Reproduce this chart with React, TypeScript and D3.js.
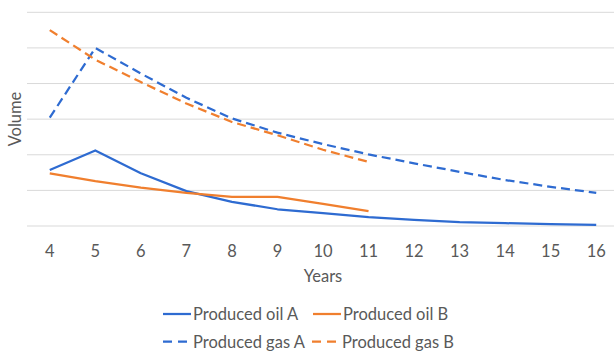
import React from "react";
import * as d3 from "d3";

// Production profiles by year
const years: number[] = [4, 5, 6, 7, 8, 9, 10, 11, 12, 13, 14, 15, 16];
const oilA: number[] = [1.57, 2.12, 1.48, 0.98, 0.68, 0.47, 0.36, 0.25, 0.17, 0.11, 0.08, 0.05, 0.03];
const oilB: number[] = [1.48, 1.26, 1.08, 0.93, 0.82, 0.82, 0.62, 0.42];
const gasA: number[] = [3.04, 5.0, 4.28, 3.6, 3.02, 2.62, 2.3, 2.01, 1.76, 1.52, 1.29, 1.1, 0.93];
const gasB: number[] = [5.5, 4.67, 4.04, 3.44, 2.92, 2.55, 2.14, 1.8];
const gridValues: number[] = [0, 1, 2, 3, 4, 5, 6];

const BLUE = "#2e6bd1";
const ORANGE = "#f07f2e";
const TEXT = "#595959";
const FONT = "Lato, 'Open Sans', sans-serif";
const FS = 16.5;

const W = 614;
const H = 354;

type Series = { name: string; values: number[]; color: string; dashed: boolean };
const series: Series[] = [
  { name: "Produced oil A", values: oilA, color: BLUE, dashed: false },
  { name: "Produced oil B", values: oilB, color: ORANGE, dashed: false },
  { name: "Produced gas A", values: gasA, color: BLUE, dashed: true },
  { name: "Produced gas B", values: gasB, color: ORANGE, dashed: true },
];

export default function App() {
  const x = d3
    .scaleBand<number>()
    .domain(years)
    .range([27, 619])
    .paddingInner(0)
    .paddingOuter(0);
  const y = d3.scaleLinear().domain([0, 6]).range([226, 12.3]);
  const cx = (yr: number) => (x(yr) as number) + x.bandwidth() / 2;

  const line = d3
    .line<number>()
    .x((_, i) => cx(years[i]))
    .y((v) => y(v));

  const legendRows = [
    [series[0], series[1]],
    [series[2], series[3]],
  ];

  return (
    <svg
      width={W}
      height={H}
      style={{ position: "absolute", left: 0, top: 0, background: "#fff" }}
    >
      {gridValues.map((g) => (
        <line
          key={g}
          x1={27}
          x2={W}
          y1={y(g)}
          y2={y(g)}
          stroke="#d9d9d9"
          strokeWidth={1}
        />
      ))}
      {years.map((yr) => (
        <text
          key={yr}
          x={cx(yr)}
          y={251}
          textAnchor="middle"
          dominantBaseline="central"
          fontFamily={FONT}
          fontSize={FS}
          fill={TEXT}
        >
          {yr}
        </text>
      ))}
      <text
        x={323}
        y={276}
        textAnchor="middle"
        dominantBaseline="central"
        fontFamily={FONT}
        fontSize={FS}
        fill={TEXT}
      >
        Years
      </text>
      <text
        transform={`translate(15,119) rotate(-90)`}
        textAnchor="middle"
        dominantBaseline="central"
        fontFamily={FONT}
        fontSize={FS}
        fill={TEXT}
      >
        Volume
      </text>
      {series.map((s) => (
        <path
          key={s.name}
          d={line(s.values) || ""}
          fill="none"
          stroke={s.color}
          strokeWidth={2.25}
          strokeDasharray={s.dashed ? "9,5" : undefined}
          strokeLinejoin="round"
        />
      ))}
      {legendRows.map((row, ri) => {
        const ly = ri === 0 ? 314 : 341.5;
        const starts = [163, ri === 0 ? 313 : 312];
        return row.map((s, ci) => (
          <g key={s.name}>
            <line
              x1={starts[ci]}
              x2={starts[ci] + 28}
              y1={ly}
              y2={ly}
              stroke={s.color}
              strokeWidth={2.25}
              strokeDasharray={s.dashed ? "9,6" : undefined}
            />
            <text
              x={starts[ci] + 30}
              y={ly}
              dominantBaseline="central"
              fontFamily={FONT}
              fontSize={FS}
              fill={TEXT}
            >
              {s.name}
            </text>
          </g>
        ));
      })}
    </svg>
  );
}
